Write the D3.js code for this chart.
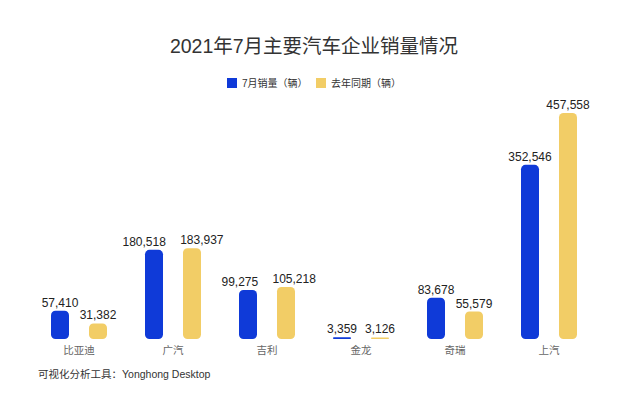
<!DOCTYPE html>
<html>
<head>
<meta charset="utf-8">
<script src="https://cdn.jsdelivr.net/npm/d3@7"></script>
<style>
  html, body { margin: 0; padding: 0; background: #fff; }
  svg { display: block; font-family: "Liberation Sans", "Noto Sans CJK SC", sans-serif; }
</style>
</head>
<body>
<svg id="chart" width="640" height="412"></svg>
<script>
const categories = ["比亚迪", "广汽", "吉利", "金龙", "奇瑞", "上汽"];
const seriesNames = ["7月销量（辆）", "去年同期（辆）"];
const july2021 = [57410, 180518, 99275, 3359, 83678, 352546];
const july2020 = [31382, 183937, 105218, 3126, 55579, 457558];
const colors = ["#0f3ad8", "#f2cd66"];
const titleText = "2021年7月主要汽车企业销量情况";
const footerText = "可视化分析工具：Yonghong Desktop";

const svg = d3.select("#chart");

const data = categories.map((c, i) => ({ cat: c, values: [july2021[i], july2020[i]] }));

const x0 = d3.scaleBand().domain(categories).range([32, 596]).padding(0);
const x1 = d3.scaleBand().domain(d3.range(2)).range([19, 75]).paddingInner(20 / 38).paddingOuter(0);
const y = d3.scaleLinear().domain([0, 500000]).range([339, 92]);
const fmt = d3.format(",");

// Title
svg.append("text")
  .attr("x", 314).attr("y", 53)
  .attr("text-anchor", "middle")
  .attr("font-size", 19.5)
  .attr("fill", "#333")
  .text(titleText);

// Legend
const legendX = [227, 316];
seriesNames.forEach((s, i) => {
  const g = svg.append("g").attr("transform", `translate(${legendX[i]},78)`);
  g.append("rect").attr("width", 10).attr("height", 10).attr("fill", colors[i]);
  g.append("text").attr("x", 15).attr("y", 9)
    .attr("font-size", 10).attr("fill", "#333").text(s);
});

// Bars
const groups = svg.selectAll("g.cat").data(data).enter().append("g")
  .attr("class", "cat")
  .attr("transform", d => `translate(${x0(d.cat)},0)`);

groups.selectAll("rect").data(d => d.values.map((v, i) => ({ v, i })))
  .enter().append("rect")
  .attr("x", d => x1(d.i))
  .attr("width", x1.bandwidth())
  .attr("y", d => y(d.v))
  .attr("height", d => y(0) - y(d.v))
  .attr("rx", d => Math.min(4.5, (y(0) - y(d.v)) / 2))
  .attr("fill", d => colors[d.i]);

groups.each(function () {
  const g = d3.select(this);
  const labels = g.selectAll("text.val").data(d => d.values.map((v, i) => ({ v, i })))
    .enter().append("text")
    .attr("class", "val")
    .attr("x", d => x1(d.i) + x1.bandwidth() / 2)
    .attr("y", d => y(d.v) - 4)
    .attr("text-anchor", "middle")
    .attr("font-size", 12)
    .attr("fill", "#222")
    .text(d => fmt(d.v));
  // simple collision resolution: push overlapping labels apart
  const nodes = labels.nodes();
  const a = nodes[0].getBBox(), b = nodes[1].getBBox();
  const ya = +nodes[0].getAttribute("y"), yb = +nodes[1].getAttribute("y");
  const vOverlap = Math.abs(ya - yb) < 11;
  const hOverlap = (a.x + a.width) > b.x;
  const gap = 14;
  const need = (a.x + a.width + gap) - b.x;
  if (vOverlap && hOverlap) {
    d3.select(nodes[0]).attr("x", +nodes[0].getAttribute("x") - need / 2);
    d3.select(nodes[1]).attr("x", +nodes[1].getAttribute("x") + need / 2);
  }
});

// Category axis labels
const xAxis = d3.axisBottom(x0).tickSize(0).tickPadding(6);
const ax = svg.append("g").attr("transform", `translate(0,${y(0) + 2})`).call(xAxis);
ax.select(".domain").remove();
ax.selectAll("text").attr("font-size", 10.5).attr("fill", "#666")
  .attr("font-family", "\"Noto Sans CJK SC\", sans-serif");

// Footer
svg.append("text")
  .attr("x", 38).attr("y", 378)
  .attr("font-size", 10.5)
  .attr("fill", "#333")
  .text(footerText);
</script>
</body>
</html>
